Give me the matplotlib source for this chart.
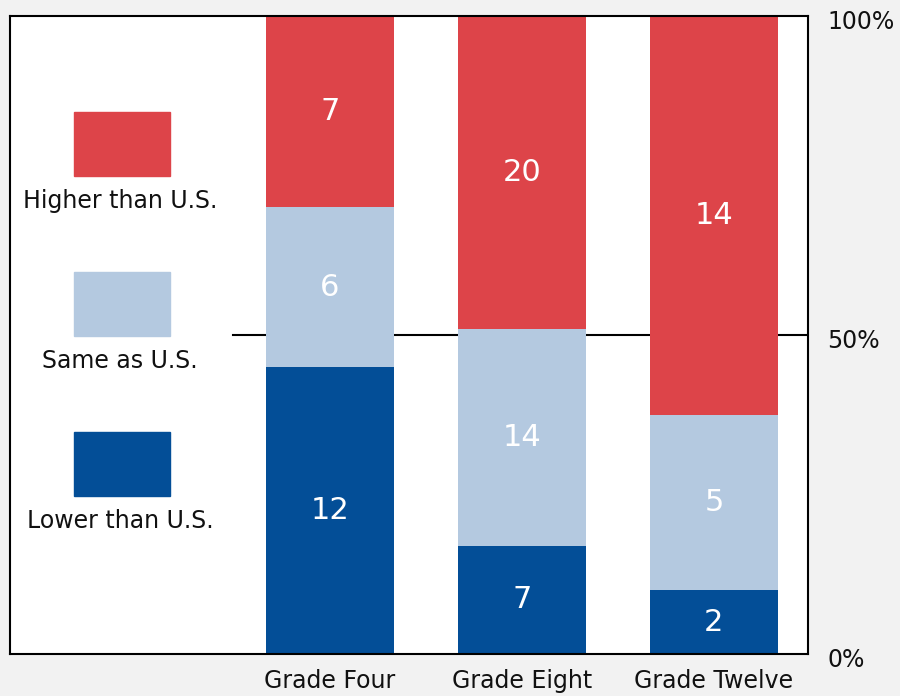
import matplotlib.pyplot as plt
from matplotlib.patches import Rectangle
from matplotlib.transforms import ScaledTranslation
import numpy as np

grades = ['Grade Four', 'Grade Eight', 'Grade Twelve']
lower_pct = [45, 17, 10]
same_pct = [25, 34, 27.5]
higher_pct = [30, 49, 62.5]
lower_n = [12, 7, 2]
same_n = [6, 14, 5]
higher_n = [7, 20, 14]

series = ['Lower than U.S.', 'Same as U.S.', 'Higher than U.S.']
colors = ['#034E97', '#B4C9E0', '#DD4449']
y_ticks = [0, 50, 100]
y_labels = ['0%', '50%', '100%']


def main():
    fig = plt.figure(figsize=(9, 6.96), dpi=100, facecolor='#F2F2F2')
    ax = fig.add_axes([10 / 900, 42 / 696, 798 / 900, 638 / 696])
    ax.set_facecolor('white')

    x = np.arange(len(grades))
    # 50% reference line behind the bars
    ax.axhline(50, xmin=223 / 798, xmax=1, color='black', lw=1.5, zorder=1)

    bottom = np.zeros(len(grades))
    for pct, counts, color in zip([lower_pct, same_pct, higher_pct],
                                  [lower_n, same_n, higher_n], colors):
        ax.bar(x, pct, width=0.667, bottom=bottom, color=color, zorder=2)
        for xi, b, h, n in zip(x, bottom, pct, counts):
            ax.text(xi, b + h / 2, str(n), ha='center', va='center',
                    color='white', fontsize=22, zorder=3)
        bottom += np.array(pct)

    ax.set_xlim(-1.667, 2.49)
    ax.set_ylim(0, 100)
    ax.set_xticks(x)
    ax.set_xticklabels(grades, fontsize=17)
    ax.yaxis.tick_right()
    ax.set_yticks(y_ticks)
    ax.set_yticklabels(y_labels, fontsize=17)
    ax.tick_params(axis='both', length=0, colors='#111111')
    ax.tick_params(axis='x', pad=11)
    ax.tick_params(axis='y', pad=14)
    # right-hand labels sit a few pixels below their gridline
    for lab in ax.get_yticklabels():
        lab.set_transform(lab.get_transform() + ScaledTranslation(0, -0.035, fig.dpi_scale_trans))
    for s in ax.spines.values():
        s.set_linewidth(1.5)
        s.set_color('black')

    # legend drawn as boxes with labels underneath, on the left
    box_tops = [432, 272, 112]
    for name, color, top in zip(series, colors, box_tops):
        fig.patches.append(Rectangle((74 / 900, 1 - (top + 64) / 696), 96 / 900, 64 / 696,
                                     transform=fig.transFigure, color=color))
        fig.text(120 / 900, 1 - (top + 89) / 696, name, ha='center', va='center',
                 fontsize=17, color='#111111')

    fig.savefig('out.png', dpi=100, facecolor=fig.get_facecolor())


if __name__ == '__main__':
    main()
